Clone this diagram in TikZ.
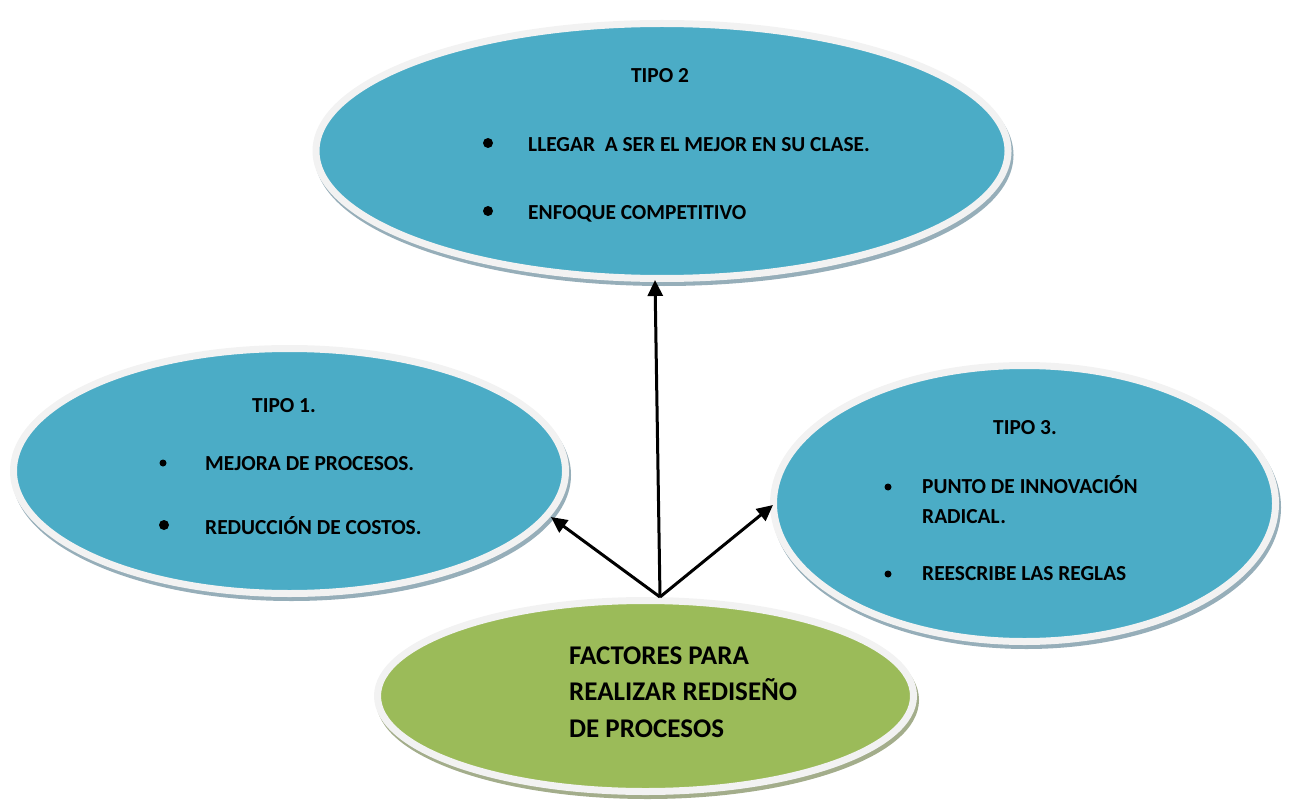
\documentclass[tikz,border=0pt]{standalone}
\usepackage{fontspec}
\setmainfont{Carlito}
\usetikzlibrary{shapes.geometric,arrows.meta,shadows}
\definecolor{ellblue}{HTML}{4BACC6}
\definecolor{ellgreen}{HTML}{9BBB59}
\definecolor{ringgray}{HTML}{F2F2F2}
\definecolor{shblue}{HTML}{96AEB9}
\definecolor{shgreen}{HTML}{A3AD8B}
\tikzset{
  ellbase/.style={ellipse, draw=ringgray, line width=7pt, inner sep=0pt},
  blueell/.style={ellbase, fill=ellblue,
    general shadow={draw=shblue, fill=shblue, line width=7pt, shadow xshift=2pt, shadow yshift=-4pt}},
  greenell/.style={ellbase, fill=ellgreen,
    general shadow={draw=shgreen, fill=shgreen, line width=7pt, shadow xshift=2pt, shadow yshift=-4pt}},
  txt/.style={inner sep=0pt, anchor=base west, font=\fontsize{21.4}{25}\selectfont\bfseries},
  ttl/.style={inner sep=0pt, anchor=base, font=\fontsize{21.4}{25}\selectfont\bfseries},
  big/.style={inner sep=0pt, anchor=base west, font=\fontsize{27}{31}\selectfont\bfseries},
  bul/.style={circle, fill=black, inner sep=0pt, minimum size=#1},
  arr/.style={line width=3pt, -{Triangle[length=16pt,width=15pt]}}
}
\begin{document}
\begin{tikzpicture}[x=1pt,y=-1pt]
\useasboundingbox (0,0) rectangle (1289,802);
% ellipses
\node[blueell, minimum width=692pt, minimum height=255pt] (t2) at (662,151) {};
\node[blueell, minimum width=552pt, minimum height=245pt] (t1) at (289.5,471) {};
\node[blueell, minimum width=502pt, minimum height=276pt] (t3) at (1024.5,503.5) {};
\node[greenell, minimum width=536pt, minimum height=191pt] (fp) at (645.5,696) {};
% TIPO 2
\node[ttl] (t2title) at (660,83) {TIPO 2};
\node[bul=10pt] (b21) at (488,143) {};
\node[txt] (t2a) at (528,152) {LLEGAR\ \ A SER EL MEJOR EN SU CLASE.};
\node[bul=10pt] (b22) at (488,211) {};
\node[txt] (t2b) at (528,220) {ENFOQUE COMPETITIVO};
% TIPO 1
\node[ttl] (t1title) at (284,412) {TIPO 1.};
\node[bul=7pt] (b11) at (163,463) {};
\node[txt] (t1a) at (205,470) {MEJORA DE PROCESOS.};
\node[bul=10pt] (b12) at (164,525) {};
\node[txt] (t1b) at (205,534) {REDUCCIÓN DE COSTOS.};
% TIPO 3
\node[ttl] (t3title) at (1025,434) {TIPO 3.};
\node[bul=7pt] (b31) at (888,487) {};
\node[txt] (t3a) at (922,493) {PUNTO DE INNOVACIÓN};
\node[txt] (t3b) at (922,523) {RADICAL.};
\node[bul=7pt] (b32) at (888,574) {};
\node[txt] (t3c) at (922,580) {REESCRIBE LAS REGLAS};
% center
\node[big] (f1) at (569,664) {FACTORES PARA};
\node[big] (f2) at (569,700) {REALIZAR REDISEÑO};
\node[big] (f3) at (569,737) {DE PROCESOS};
% arrows
\coordinate (src) at (660,597);
\coordinate (e2) at (655,280);
\coordinate (e1) at (551,517);
\coordinate (e3) at (773,505);
\draw[arr] (src) -- (e2);
\draw[arr] (src) -- (e1);
\draw[arr] (src) -- (e3);
\end{tikzpicture}
\end{document}
